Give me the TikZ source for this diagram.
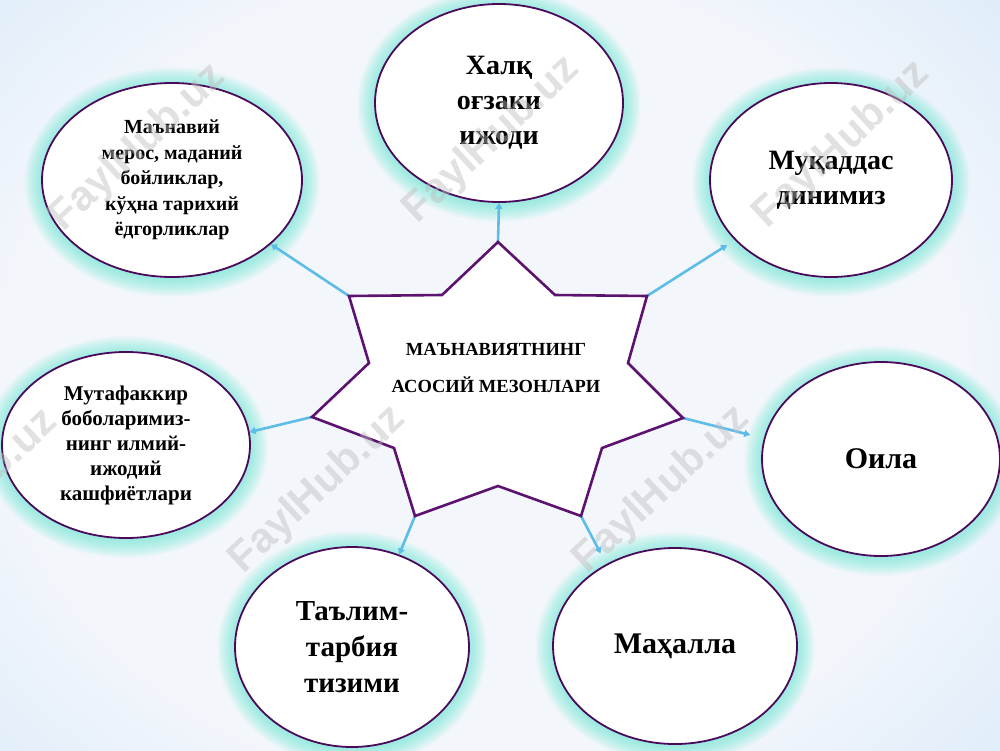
\documentclass[tikz,border=0pt]{standalone}
\usepackage{fontspec}
\setmainfont{Liberation Serif}
\newfontfamily\wmfont{Liberation Sans}
\usetikzlibrary{shapes.geometric,arrows.meta}
\definecolor{bgin}{HTML}{F3F6FB}
\definecolor{bgout}{HTML}{9CCFF4}
\definecolor{glowc}{HTML}{6EEAD6}
\definecolor{ellc}{HTML}{4A0A5C}
\definecolor{starc}{HTML}{5C1370}
\definecolor{connc}{HTML}{5DBDE6}
\definecolor{wmc}{HTML}{BDBDBD}
\pgfdeclareradialshading{bgsh}{\pgfpoint{0bp}{0bp}}{color(0bp)=(bgin); color(17bp)=(bgin); color(50bp)=(bgout)}
\begin{document}
\begin{tikzpicture}[x=1pt,y=-1pt,
  ell/.style={ellipse, draw=ellc, line width=1.8pt, fill=white, inner sep=0pt, align=center, text=black},
  conn/.style={draw=connc, line width=2.6pt, -{Triangle[length=6pt,width=7pt]}},
  wm/.style={font=\wmfont\bfseries\fontsize{42}{42}\selectfont, text=wmc, opacity=0.45, rotate=43}
]
\useasboundingbox (0,0) rectangle (1000,750);
\begin{scope}
\clip (0,0) rectangle (1000,750);
\fill[bgout] (0,0) rectangle (1000,750);
\shade[shading=bgsh] (480,380) ellipse [x radius=700, y radius=590];
\end{scope}

% glow around ellipses
\foreach \cx/\cy/\rx/\ry in {499/103/124/99, 172/180/130/97, 831/180/121/97, 126/445/124/93, 881/459/119/97, 352/647/117/100, 675/646/122/98}{
  \foreach \d in {1,2.5,...,18}{
    \fill[glowc, opacity=0.075] (\cx,\cy+2) ellipse [x radius={\rx+\d}, y radius={\ry+\d}];
  }
}

% ellipses
\node[ell, minimum width=248pt, minimum height=198pt, font=\bfseries\fontsize{28}{35}\selectfont] (etop) at (499,103) {Халқ\\оғзаки\\ижоди};
\node[ell, minimum width=260pt, minimum height=194pt, font=\bfseries\fontsize{20}{25.5}\selectfont] (eul) at (172,180) {Маънавий\\мерос, маданий\\бойликлар,\\кўҳна тарихий\\ёдгорликлар};
\node[ell, minimum width=242pt, minimum height=194pt, font=\bfseries\fontsize{28}{35}\selectfont] (eur) at (831,180) {Муқаддас\\динимиз};
\node[ell, minimum width=248pt, minimum height=186pt, font=\bfseries\fontsize{21}{25}\selectfont] (eleft) at (126,445) {Мутафаккир\\боболаримиз-\\нинг илмий-\\ижодий\\кашфиётлари};
\node[ell, minimum width=238pt, minimum height=194pt, font=\bfseries\fontsize{30}{36}\selectfont] (eright) at (881,459) {Оила};
\node[ell, minimum width=234pt, minimum height=200pt, font=\bfseries\fontsize{29}{36}\selectfont] (ebl) at (352,647) {Таълим-\\тарбия\\тизими};
\node[ell, minimum width=244pt, minimum height=196pt, font=\bfseries\fontsize{30}{36}\selectfont] (ebr) at (675,646) {Маҳалла};

% star vertices
\coordinate (sT) at (498,242);
\coordinate (i1) at (442,295);
\coordinate (sUL) at (349,296);
\coordinate (i2) at (369,363);
\coordinate (sL) at (312,417);
\coordinate (i3) at (394,448);
\coordinate (sLL) at (415,516);
\coordinate (i4) at (498,486);
\coordinate (sLR) at (581,516);
\coordinate (i5) at (602,448);
\coordinate (sR) at (683,418);
\coordinate (i6) at (628,363);
\coordinate (sUR) at (647,296);
\coordinate (i7) at (555,295);

% connectors
\draw[conn] (sT) -- (etop.south);
\draw[conn] (sUL) -- (eul.-33);
\draw[conn, shorten >=9pt] (sUR) -- (eur.212);
\draw[conn] (sL) -- (eleft.6);
\draw[conn, shorten >=14pt] (sR) -- (eright.170);
\draw[conn] (sLL) -- (ebl.63);
\draw[conn, shorten >=12pt] (sLR) -- (ebr.130);

% star
\fill[black, opacity=0.12, xshift=2pt, yshift=-3pt] (sT) -- (i1) -- (sUL) -- (i2) -- (sL) -- (i3) -- (sLL) -- (i4) -- (sLR) -- (i5) -- (sR) -- (i6) -- (sUR) -- (i7) -- cycle;
\draw[starc, line width=2.6pt, fill=white, line join=miter] (sT) -- (i1) -- (sUL) -- (i2) -- (sL) -- (i3) -- (sLL) -- (i4) -- (sLR) -- (i5) -- (sR) -- (i6) -- (sUR) -- (i7) -- cycle;
\node[align=center, font=\bfseries\fontsize{18.5}{37}\selectfont] (startext) at (496,368) {МАЪНАВИЯТНИНГ\\АСОСИЙ МЕЗОНЛАРИ};

% watermarks
\begin{scope}
\clip (0,0) rectangle (1000,750);
\node[wm] (wm1) at (138,148) {FaylHub.uz};
\node[wm] (wm2) at (492,140) {FaylHub.uz};
\node[wm] (wm3) at (842,145) {FaylHub.uz};
\node[wm] (wm4) at (-30,493) {FaylHub.uz};
\node[wm] (wm5) at (318,490) {FaylHub.uz};
\node[wm] (wm6) at (662,490) {FaylHub.uz};
\end{scope}
\end{tikzpicture}
\end{document}
